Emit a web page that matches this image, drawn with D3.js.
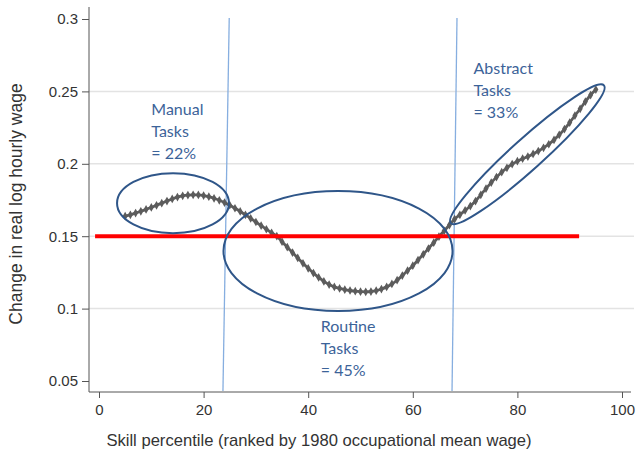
<!DOCTYPE html>
<html>
<head>
<meta charset="utf-8">
<script src="https://cdn.jsdelivr.net/npm/d3@7"></script>
<style>
  body { margin: 0; background: #fff; }
  svg { display: block; }
</style>
</head>
<body>
<svg id="chart"></svg>
<script>
// skill percentile 5..95 and the smoothed wage change at each
const percentiles = d3.range(5, 96)
const wageChange = [
	0.1638, 0.1648, 0.1660, 0.1672, 0.1685, 0.1699, 0.1713, 0.1728, 0.1743, 0.1757,
	0.1770, 0.1779, 0.1784, 0.1786, 0.1785, 0.1781, 0.1773, 0.1762, 0.1748, 0.1732,
	0.1714, 0.1693, 0.1671, 0.1648, 0.1623, 0.1598, 0.1573, 0.1548, 0.1523, 0.1500,
	0.1462, 0.1424, 0.1387, 0.1350, 0.1313, 0.1278, 0.1245, 0.1215, 0.1188, 0.1166,
	0.1150, 0.1139, 0.1131, 0.1125, 0.1120, 0.1117, 0.1116, 0.1118, 0.1124, 0.1135,
	0.1150, 0.1170, 0.1196, 0.1228, 0.1262, 0.1296, 0.1335, 0.1375, 0.1415, 0.1455,
	0.1497, 0.1537, 0.1577, 0.1618, 0.1648, 0.1678, 0.1708, 0.1743, 0.1786, 0.1829,
	0.1870, 0.1908, 0.1942, 0.1972, 0.1998, 0.2018, 0.2035, 0.2050, 0.2068, 0.2088,
	0.2110, 0.2135, 0.2165, 0.2200, 0.2240, 0.2285, 0.2333, 0.2380, 0.2430, 0.2475,
	0.2513
]
const xTicks = [0, 20, 40, 60, 80, 100]
const yTicks = [0.05, 0.1, 0.15, 0.2, 0.25, 0.3]
const gridTicks = [0.1, 0.15, 0.2, 0.25]

// red reference level, drawn from x = refStart to refEnd
const refLevel = 0.15
const refStart = -0.75
const refEnd = 91.8

// the two slanted boundary lines (top and bottom ends, data units)
const boundaries = [
	{ top: [24.9, 0.3007], bottom: [23.7, 0.0431] },
	{ top: [68.45, 0.3007], bottom: [67.5, 0.0431] }
]

// ellipses round each group: centre, half axes in data units, angle
const groups = [
	{ cx: 14.15, cy: 0.1728, rx: 10.7, ry: 0.0207, angle: 0 },
	{ cx: 45.7, cy: 0.1398, rx: 21.9, ry: 0.0414, angle: 0 },
	{ cx: 81.9, cy: 0.2066, rx: 19.7, ry: 0.0107, angle: -42 }
]

const notes = [
	{ x: 10.0, y: 0.2336, lines: ['Manual', 'Tasks', '= 22%'] },
	{ x: 42.4, y: 0.0835, lines: ['Routine', 'Tasks', '= 45%'] },
	{ x: 71.6, y: 0.2619, lines: ['Abstract', 'Tasks', '= 33%'] }
]

const W = 636, H = 453
const svg = d3.select('#chart').attr('width', W).attr('height', H)

const x = d3.scaleLinear().domain([0, 100]).range([99, 622])
const y = d3.scaleLinear().domain([0.05, 0.3]).range([381, 19])

const axisX = 89, axisY = 392
const axisColor = '#555'
const textColor = '#333'
const sans = '"Liberation Sans", Arial, sans-serif'

// gridlines
svg.append('g').selectAll('line')
	.data(gridTicks).enter().append('line')
	.attr('x1', axisX).attr('x2', 634)
	.attr('y1', d => y(d)).attr('y2', d => y(d))
	.attr('stroke', '#e3e3e3').attr('stroke-width', 1.5)

// y axis
const gy = svg.append('g').attr('transform', `translate(${axisX},0)`)
	.call(d3.axisLeft(y).tickValues(yTicks).tickSize(7).tickPadding(4)
		.tickFormat(d => d3.format('')(+d.toFixed(2))))
gy.select('.domain').attr('d', `M0,7V${axisY}`)
gy.selectAll('line').attr('stroke', axisColor)
gy.select('.domain').attr('stroke', axisColor)
gy.selectAll('text').attr('font-family', sans).attr('font-size', 15).attr('fill', textColor)

// x axis
const gx = svg.append('g').attr('transform', `translate(0,${axisY})`)
	.call(d3.axisBottom(x).tickValues(xTicks).tickSize(6).tickPadding(6))
gx.select('.domain').attr('d', `M${axisX},0H631`)
gx.selectAll('line').attr('stroke', axisColor)
gx.select('.domain').attr('stroke', axisColor)
gx.selectAll('text').attr('font-family', sans).attr('font-size', 15).attr('fill', textColor)

// axis titles
svg.append('text')
	.attr('x', 319).attr('y', 446)
	.attr('text-anchor', 'middle')
	.attr('font-family', sans).attr('font-size', 16.6).attr('fill', textColor)
	.text('Skill percentile (ranked by 1980 occupational mean wage)')

svg.append('text')
	.attr('transform', 'translate(22,204) rotate(-90)')
	.attr('text-anchor', 'middle')
	.attr('font-family', sans).attr('font-size', 17.5).attr('fill', textColor)
	.text('Change in real log hourly wage')

// boundary lines
svg.append('g').selectAll('line')
	.data(boundaries).enter().append('line')
	.attr('x1', d => x(d.top[0])).attr('y1', d => y(d.top[1]))
	.attr('x2', d => x(d.bottom[0])).attr('y2', d => y(d.bottom[1]))
	.attr('stroke', '#86aee0').attr('stroke-width', 1.3)

// the curve
const pts = percentiles.map((p, i) => ({ p: p, v: wageChange[i] }))
const line = d3.line().x(d => x(d.p)).y(d => y(d.v)).curve(d3.curveMonotoneX)

svg.append('path')
	.attr('d', line(pts))
	.attr('fill', 'none')
	.attr('stroke', '#5c5c5c')
	.attr('stroke-width', 2.8)

svg.append('g').selectAll('path')
	.data(pts).enter().append('path')
	.attr('d', d3.symbol().type(d3.symbolDiamond).size(22))
	.attr('transform', d => `translate(${x(d.p)},${y(d.v)})`)
	.attr('fill', '#5c5c5c')

// red reference line
svg.append('line')
	.attr('x1', x(refStart)).attr('x2', x(refEnd))
	.attr('y1', y(refLevel)).attr('y2', y(refLevel))
	.attr('stroke', '#ff0000').attr('stroke-width', 4)

// ellipses
svg.append('g').selectAll('ellipse')
	.data(groups).enter().append('ellipse')
	.attr('transform', d => `translate(${x(d.cx)},${y(d.cy)}) rotate(${d.angle})`)
	.attr('rx', d => x(d.cx + d.rx) - x(d.cx))
	.attr('ry', d => y(d.cy) - y(d.cy + d.ry))
	.attr('fill', 'none')
	.attr('stroke', '#2f5689')
	.attr('stroke-width', 2)

// notes
const nt = svg.append('g').selectAll('text')
	.data(notes).enter().append('text')
	.attr('x', d => x(d.x)).attr('y', d => y(d.y))
	.attr('font-family', 'Lato, "Open Sans", sans-serif')
	.attr('font-size', 16)
	.attr('fill', '#3c6399')
nt.selectAll('tspan')
	.data(d => d.lines.map(l => ({ t: l, x: d.x }))).enter().append('tspan')
	.attr('x', d => x(d.x))
	.attr('dy', (d, i) => i ? 22 : 0)
	.text(d => d.t)
</script>
</body>
</html>
